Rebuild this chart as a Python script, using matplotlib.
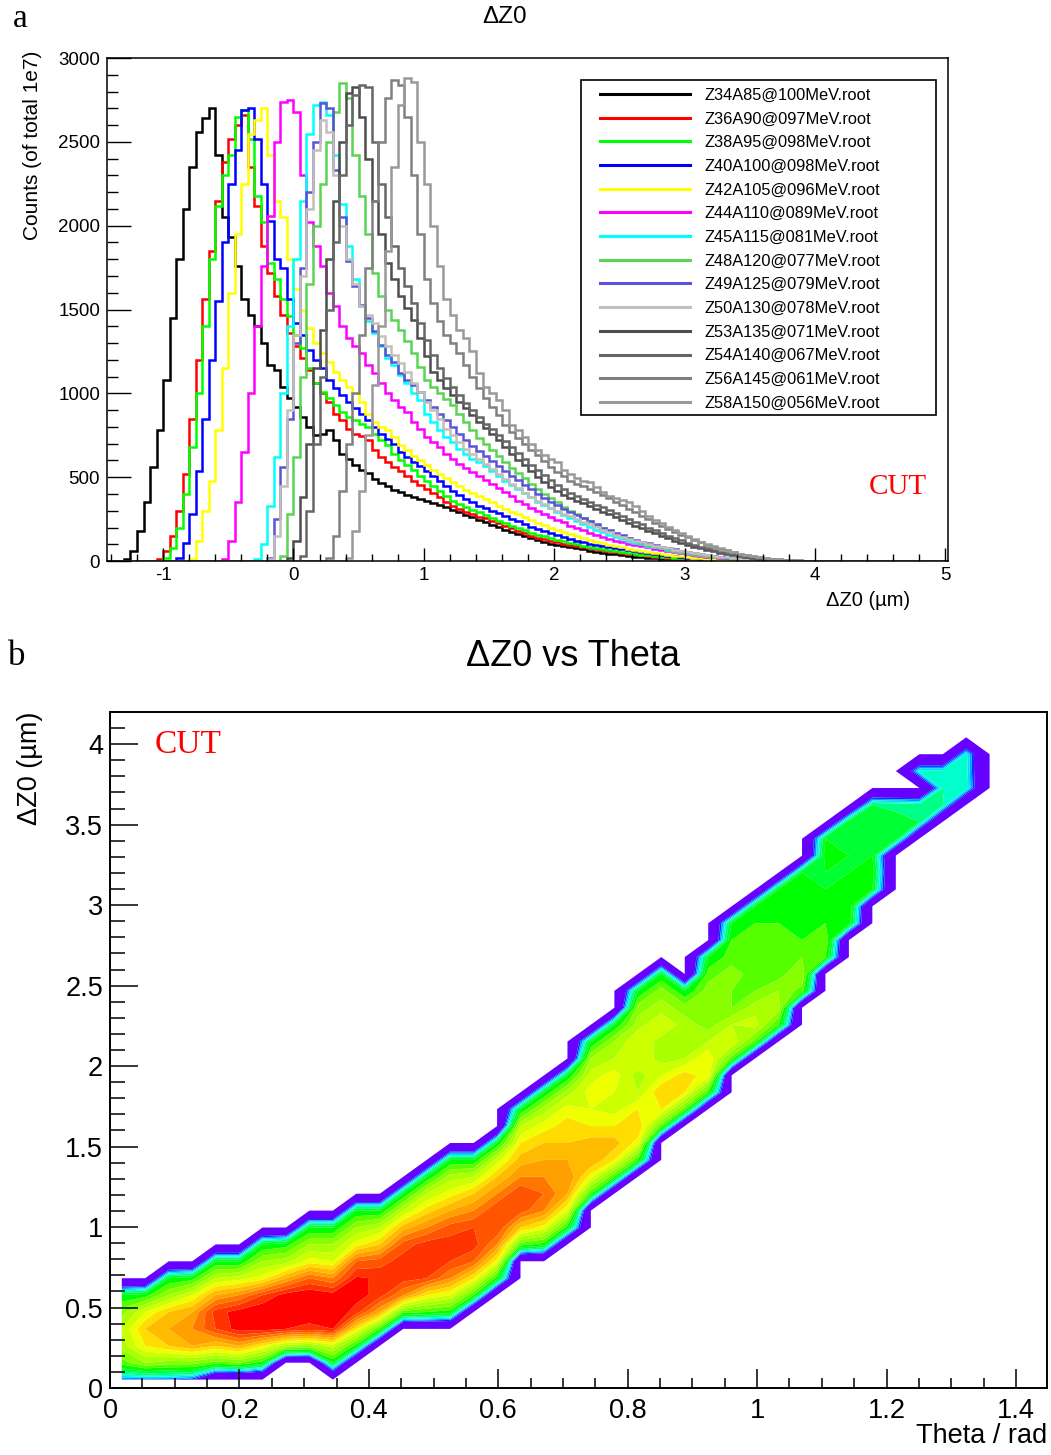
import numpy as np
import matplotlib
matplotlib.use("Agg")
import matplotlib.pyplot as plt
from matplotlib.ticker import MultipleLocator
from matplotlib.patches import Rectangle

plt.rcParams['font.family'] = ['Liberation Sans', 'DejaVu Sans']
plt.rcParams['axes.unicode_minus'] = False

# ---------------- panel a : Delta Z0 histograms (bin width 0.05 um) ----------------
bin_lo = -1.45
bin_w = 0.05
n_bins = 130

z34_start = -1.30
z34_counts = [10, 60, 180, 350, 560, 780, 1080, 1450, 1800, 2100, 2350, 2560, 2640, 2700, 2420, 2050,
              1930, 1760, 1560, 1470, 1400, 1300, 1170, 1140, 1040, 970, 920, 860, 800, 750, 760, 780,
              720, 640, 610, 575, 545, 525, 490, 465, 445, 425, 410, 395, 380, 370, 360, 345, 335, 320,
              305, 290, 275, 260, 245, 232, 215, 202, 188, 172, 160, 148, 135, 124, 112, 104, 95, 88,
              82, 76, 70, 62, 56, 50, 45, 40, 34, 30, 26, 22, 19, 16, 13, 11, 9, 7, 6, 5, 4, 3, 3, 2, 2,
              1, 1]
z36_start = -1.05
z36_counts = [15, 60, 150, 300, 520, 850, 1200, 1560, 1850, 2150, 2380, 2520, 2600, 2660, 2350, 2120,
              1880, 1720, 1580, 1470, 1360, 1280, 1210, 1140, 1060, 1000, 950, 880, 840, 790, 760, 745,
              720, 660, 620, 590, 560, 535, 505, 480, 455, 430, 405, 380, 355, 330, 310, 292, 278, 265,
              255, 240, 225, 212, 196, 182, 166, 152, 140, 130, 122, 112, 104, 95, 88, 84, 76, 70, 64,
              58, 54, 49, 44, 40, 36, 32, 27, 23, 19, 15, 12, 10, 8, 7, 5, 4, 3, 3, 2, 2, 1, 1]
z38_start = -1.00
z38_counts = [20, 80, 200, 400, 680, 1000, 1400, 1800, 2120, 2300, 2420, 2650, 2690, 2520, 2180, 2020,
              1780, 1680, 1560, 1460, 1350, 1270, 1150, 1060, 1010, 970, 930, 890, 860, 840, 820, 800,
              760, 720, 690, 640, 600, 570, 545, 510, 475, 450, 420, 385, 360, 340, 320, 305, 290, 275,
              258, 240, 225, 210, 198, 183, 170, 158, 148, 138, 128, 118, 108, 100, 92, 84, 78, 72, 66,
              60, 55, 49, 44, 39, 34, 30, 26, 22, 19, 16, 13, 11, 9, 7, 6, 5, 4, 3, 2, 2, 1, 1]
z40_start = -0.90
z40_counts = [20, 110, 280, 540, 850, 1200, 1550, 1900, 2250, 2450, 2690, 2700, 2520, 2250, 2030, 1800,
              1750, 1560, 1420, 1350, 1260, 1200, 1150, 1080, 1030, 990, 950, 910, 880, 840, 800, 760,
              730, 700, 650, 620, 590, 565, 540, 510, 480, 445, 420, 395, 370, 350, 330, 315, 300, 285,
              268, 252, 240, 222, 205, 190, 178, 165, 155, 144, 132, 122, 112, 104, 96, 88, 82, 76, 70,
              64, 58, 52, 47, 42, 37, 32, 28, 24, 20, 17, 14, 11, 9, 7, 6, 4, 3, 2, 2, 1, 1]
z42_start = -0.80
z42_counts = [15, 120, 300, 480, 780, 1150, 1600, 1950, 2250, 2550, 2630, 2700, 2420, 2150, 2050, 1800,
              1620, 1500, 1390, 1300, 1240, 1190, 1130, 1080, 1040, 1000, 950, 880, 830, 800, 780, 740,
              690, 660, 625, 600, 570, 545, 520, 495, 470, 450, 425, 405, 385, 368, 350, 330, 312, 295,
              280, 262, 245, 228, 215, 200, 188, 175, 160, 148, 135, 125, 115, 106, 98, 90, 82, 74, 66,
              60, 54, 48, 42, 37, 32, 28, 24, 20, 17, 14, 11, 9, 7, 5, 4, 3, 2, 2, 1, 1]
z44_start = -0.55
z44_counts = [15, 120, 350, 650, 1000, 1400, 1760, 2060, 2500, 2740, 2750, 2680, 2300, 2020, 1880, 1760,
              1600, 1520, 1400, 1330, 1280, 1240, 1170, 1120, 1060, 1000, 960, 920, 890, 830, 790, 740,
              710, 680, 640, 610, 580, 555, 530, 505, 485, 460, 435, 410, 385, 360, 340, 318, 298, 280,
              262, 245, 230, 212, 198, 184, 170, 156, 144, 132, 122, 112, 104, 95, 88, 82, 74, 67, 60,
              54, 48, 42, 37, 32, 27, 23, 19, 16, 13, 10, 8, 6, 5, 4, 3, 2, 1, 1]
z45_start = -0.30
z45_counts = [10, 100, 330, 620, 1000, 1400, 1800, 2150, 2550, 2720, 2740, 2660, 2420, 2130, 1880, 1680,
              1520, 1430, 1360, 1280, 1210, 1170, 1110, 1060, 1000, 960, 880, 830, 780, 740, 710, 670,
              640, 610, 590, 565, 540, 510, 480, 455, 430, 405, 380, 355, 335, 315, 295, 275, 255, 238,
              222, 205, 188, 172, 158, 145, 132, 120, 110, 100, 92, 84, 76, 68, 60, 54, 48, 42, 36, 31,
              26, 22, 18, 15, 12, 9, 7, 5, 4, 3, 2, 2, 1, 1]
z48_start = -0.10
z48_counts = [30, 280, 620, 1100, 1650, 2000, 2250, 2500, 2680, 2850, 2760, 2420, 2180, 1950, 1720, 1580,
              1500, 1440, 1380, 1310, 1240, 1160, 1080, 1040, 1000, 965, 930, 880, 830, 780, 735, 700,
              660, 625, 590, 555, 525, 495, 460, 430, 400, 375, 350, 325, 300, 278, 256, 236, 216, 198,
              180, 164, 150, 136, 122, 110, 98, 88, 78, 70, 62, 55, 48, 42, 36, 31, 26, 22, 18, 15, 12,
              9, 7, 5, 4, 3, 2, 2, 1, 1]
z49_start = -0.20
z49_counts = [20, 250, 560, 850, 1300, 1750, 2200, 2500, 2730, 2700, 2330, 2050, 1790, 1640, 1530, 1450,
              1370, 1290, 1230, 1190, 1120, 1080, 1050, 1010, 960, 920, 880, 840, 800, 760, 720, 685,
              655, 625, 595, 565, 535, 510, 485, 455, 430, 400, 378, 355, 335, 312, 290, 272, 255, 236,
              218, 200, 184, 168, 154, 140, 128, 116, 105, 95, 86, 78, 70, 62, 55, 48, 42, 36, 31, 26,
              21, 17, 14, 11, 8, 6, 5, 4, 3, 2, 1, 1]
z50_start = -0.20
z50_counts = [10, 150, 450, 900, 1350, 1700, 2100, 2450, 2630, 2560, 2300, 2000, 1800, 1650, 1520, 1470,
              1420, 1340, 1280, 1230, 1180, 1130, 1060, 1010, 950, 900, 850, 790, 750, 710, 670, 640,
              610, 580, 550, 520, 490, 460, 435, 408, 382, 360, 338, 318, 300, 282, 266, 250, 235, 218,
              202, 186, 172, 158, 145, 133, 122, 112, 102, 92, 84, 76, 68, 61, 54, 48, 42, 36, 31, 26,
              22, 18, 14, 11, 9, 7, 5, 4, 3, 2, 1, 1]
z53_start = -0.05
z53_counts = [20, 120, 380, 700, 1150, 1380, 1800, 2150, 2500, 2790, 2830, 2650, 2400, 2150, 1950, 1780,
              1680, 1580, 1510, 1440, 1330, 1220, 1130, 1080, 1030, 990, 950, 910, 870, 830, 795, 760,
              720, 680, 640, 605, 570, 535, 500, 470, 440, 415, 395, 378, 360, 345, 328, 310, 295, 280,
              262, 245, 228, 212, 196, 180, 165, 150, 136, 122, 110, 98, 86, 76, 66, 57, 49, 42, 35, 29,
              24, 19, 15, 12, 9, 7, 5, 4, 3, 2, 1]
z54_start = 0.05
z54_counts = [30, 300, 700, 1100, 1500, 1900, 2300, 2600, 2780, 2840, 2830, 2500, 2250, 2050, 1880, 1750,
              1640, 1540, 1420, 1320, 1230, 1150, 1090, 1040, 990, 945, 900, 860, 820, 785, 750, 715,
              680, 645, 610, 575, 545, 515, 485, 455, 430, 405, 385, 368, 350, 335, 320, 305, 288, 270,
              252, 235, 218, 200, 184, 168, 152, 138, 124, 110, 98, 86, 75, 65, 56, 48, 40, 34, 28, 22,
              18, 14, 11, 8, 6, 5, 3, 2, 1]
z56_start = 0.25
z56_counts = [20, 150, 420, 700, 1000, 1350, 1750, 2150, 2500, 2760, 2870, 2840, 2650, 2300, 1950, 1680,
              1540, 1430, 1350, 1300, 1240, 1170, 1100, 1030, 975, 920, 870, 810, 770, 735, 700, 665,
              630, 595, 560, 530, 505, 480, 462, 448, 430, 412, 395, 375, 355, 335, 312, 290, 268, 248,
              228, 210, 192, 175, 158, 142, 126, 112, 98, 86, 74, 63, 53, 44, 36, 29, 23, 18, 14, 10, 7,
              5, 4, 3, 2, 1]
z58_start = 0.40
z58_counts = [20, 180, 420, 750, 1050, 1400, 1850, 2350, 2720, 2880, 2860, 2500, 2250, 2000, 1760, 1560,
              1470, 1380, 1330, 1250, 1120, 1040, 1000, 960, 900, 810, 780, 740, 700, 660, 635, 610,
              590, 545, 520, 495, 480, 470, 440, 410, 390, 375, 365, 350, 330, 300, 270, 245, 225, 205,
              185, 168, 150, 130, 115, 100, 88, 76, 64, 53, 44, 36, 29, 23, 18, 14, 10, 7, 5, 4, 3, 2, 1]

hist_labels = ['Z34A85@100MeV.root', 'Z36A90@097MeV.root', 'Z38A95@098MeV.root',
               'Z40A100@098MeV.root', 'Z42A105@096MeV.root', 'Z44A110@089MeV.root',
               'Z45A115@081MeV.root', 'Z48A120@077MeV.root', 'Z49A125@079MeV.root',
               'Z50A130@078MeV.root', 'Z53A135@071MeV.root', 'Z54A140@067MeV.root',
               'Z56A145@061MeV.root', 'Z58A150@056MeV.root']
hist_colors = ['#000000', '#ff0000', '#00ff00', '#0000ff', '#ffff00', '#ff00ff', '#00ffff',
               '#59d454', '#5954d9', '#c4bfb8', '#4d4d4d', '#666666', '#808080', '#999999']
hist_series = [(z34_start, z34_counts), (z36_start, z36_counts), (z38_start, z38_counts),
               (z40_start, z40_counts), (z42_start, z42_counts), (z44_start, z44_counts),
               (z45_start, z45_counts), (z48_start, z48_counts), (z49_start, z49_counts),
               (z50_start, z50_counts), (z53_start, z53_counts), (z54_start, z54_counts),
               (z56_start, z56_counts), (z58_start, z58_counts)]

# ---------------- panel b : Delta Z0 vs Theta (2D bins) ----------------
theta_bin_w = 0.03625
z_bin_w = 0.105
n_theta = 40
n_z = 40
# one entry per theta column: (first filled z-row, cell values)
dz_columns = [
    (0, [4, 8.5, 10.5, 11, 9.5, 7]),
    (0, [4, 10, 13, 14, 12, 7.5]),
    (0, [4, 9.5, 14, 15, 14, 10, 7]),
    (0, [3.6, 9.5, 15, 16, 15, 12, 7.5]),
    (1, [8.5, 14, 18, 18.5, 15, 11, 7]),
    (1, [9, 15, 19.5, 19.5, 16, 11.5, 7]),
    (1, [7.5, 13, 19.5, 20, 18, 12.5, 10, 7]),
    (2, [10.5, 19, 20, 19.5, 15, 10.5, 7.5]),
    (2, [10, 18.5, 20, 20, 17, 12.5, 10, 7]),
    (1, [7, 11.5, 19, 20, 19.5, 16, 12, 10, 7]),
    (2, [7.5, 13, 18.5, 19.5, 19.2, 17, 12.5, 10, 7]),
    (3, [8, 15, 18.5, 18.8, 17.5, 14, 11, 7]),
    (4, [8.5, 16, 18.5, 18.5, 17.5, 14.5, 11, 7]),
    (4, [8, 13, 18, 18.5, 18.5, 16, 13.5, 11, 7]),
    (4, [7.5, 12, 16, 18, 18.5, 17.5, 15, 12.5, 10.5, 7]),
    (5, [8, 13, 17, 18.5, 18, 16, 14, 11, 7]),
    (6, [7.5, 12.5, 16, 18, 18, 16, 14, 11.5, 7]),
    (8, [8.5, 14, 17.5, 18, 16, 14.5, 13, 11, 7]),
    (8, [7.5, 12.5, 16, 17, 16, 15, 14, 12.5, 10.5, 7]),
    (9, [7.5, 12, 15, 16, 15, 14, 13.5, 12.5, 10.5, 7]),
    (11, [8, 12.5, 15, 14.5, 13, 12, 12.5, 11.5, 10, 7]),
    (12, [8, 13, 14.5, 13, 11.5, 12, 12.5, 11, 10, 7]),
    (13, [8, 12.5, 14, 13, 11, 10.5, 12, 12, 10.5, 9.5, 7]),
    (15, [8.5, 13, 14, 12, 10.5, 10.5, 12, 10.5, 9.5, 7]),
    (16, [8.5, 13, 13.5, 11, 10, 10.5, 9.5, 7]),
    (17, [8, 12.5, 13, 11, 9.5, 10, 9.5, 8.5, 7]),
    (19, [8.5, 12, 11, 9, 9, 9.5, 8.5, 8, 7]),
    (20, [8.5, 11.5, 10.5, 9, 8.5, 9, 8.5, 8, 7]),
    (21, [8, 10.5, 10, 8.5, 8, 8.5, 8, 7.5, 7]),
    (23, [8.5, 10, 9, 8, 7.5, 7.5, 7.5, 7]),
    (25, [8, 9, 8, 7.5, 7, 7, 7.5, 7]),
    (27, [7.5, 8, 7.5, 7, 7, 7, 6.8]),
    (29, [7, 7.5, 7, 7, 6.5, 6.2]),
    (32, [6.8, 6.5, 6]),
    (33, [6.2, 5.8, 0, 5.3]),
    (34, [5.8, 5.5, 5.3]),
    (35, [5.5, 5.3, 5.2]),
]
cont_levels = [0.01, 3.5, 4.0, 4.5, 5.0, 5.5, 6.2, 7, 8, 9, 10, 11, 12, 13, 14, 15, 16, 17, 18, 19, 21]
cont_colors = ['#6600ff', '#0033ff', '#0099ff', '#00ddff', '#00ffcc', '#00ff88', '#00ff33', '#00ff00',
               '#55ff00', '#88ff00', '#aaff00', '#ccff00', '#eeff00', '#ffdd00', '#ffbb00', '#ffa000',
               '#ff7700', '#ff5500', '#ff3300', '#ff0000']

fig = plt.figure(figsize=(10.51, 14.55), dpi=100)

# ---------- panel a ----------
ax1 = fig.add_axes([0.1018, 0.6144, 0.8002, 0.3457])
edges = bin_lo + bin_w * np.arange(n_bins + 1)
handles = []
for (start, counts), col, lab in zip(hist_series, hist_colors, hist_labels):
    vals = np.zeros(n_bins)
    i0 = int(round((start - bin_lo) / bin_w))
    vals[i0:i0 + len(counts)] = counts
    h = ax1.stairs(vals, edges, baseline=None, color=col, lw=1.8, label=lab)
    handles.append(h)

ax1.set_xlim(-1.43, 5.02)
ax1.set_ylim(0, 3000)
ax1.xaxis.set_major_locator(MultipleLocator(1))
ax1.xaxis.set_minor_locator(MultipleLocator(0.2))
ax1.yaxis.set_major_locator(MultipleLocator(500))
ax1.yaxis.set_minor_locator(MultipleLocator(100))
ax1.tick_params(which='both', direction='in', width=1.0, labelsize=13.5)
ax1.tick_params(axis='x', which='major', length=9.5, pad=4)
ax1.tick_params(axis='x', which='minor', length=5)
ax1.tick_params(axis='y', which='major', length=17, pad=5)
ax1.tick_params(axis='y', which='minor', length=8)
for sp in ax1.spines.values():
    sp.set_linewidth(1.1)

leg = ax1.legend(handles=handles, loc='upper left', bbox_to_anchor=(0.5862, 0.941),
                 frameon=False, fontsize=11.8, handlelength=5.5, handletextpad=0.9,
                 labelspacing=0.53, borderpad=0, borderaxespad=0)
for line in leg.get_lines():
    line.set_linewidth(2.2)
ax1.add_patch(Rectangle((0.5636, 0.2903), 0.4221, 0.666, transform=ax1.transAxes,
                        fill=False, edgecolor='black', lw=1.2, zorder=5))
ax1.text(0.9405, 0.147, 'CUT', transform=ax1.transAxes, color='red', fontsize=21,
         family='Liberation Serif', ha='center', va='center')

fig.text(0.4805, 0.988, '\u0394Z0', fontsize=17.5, ha='center', va='center')
fig.text(0.012, 0.987, 'a', fontsize=24, family='Liberation Serif', ha='left', va='center')
fig.text(0.031, 0.9003, 'Counts (of total 1e7)', rotation=90, fontsize=15, ha='center', va='center')
fig.text(0.826, 0.5876, '\u0394Z0 (\u00b5m)', fontsize=14.5, ha='center', va='center')

# ---------- panel b ----------
ax2 = fig.add_axes([0.1047, 0.046, 0.8915, 0.4647])
grid = np.zeros((n_z, n_theta))
for i, (j0, vals) in enumerate(dz_columns):
    grid[j0:j0 + len(vals), i] = vals
theta_c = (np.arange(n_theta) + 0.5) * theta_bin_w
z_c = (np.arange(n_z) + 0.5) * z_bin_w
ax2.contourf(theta_c, z_c, grid, levels=cont_levels, colors=cont_colors, antialiased=True)

ax2.set_xlim(0, 1.448)
ax2.set_ylim(0, 4.2)
ax2.xaxis.set_major_locator(MultipleLocator(0.2))
ax2.xaxis.set_minor_locator(MultipleLocator(0.05))
ax2.yaxis.set_major_locator(MultipleLocator(0.5))
ax2.yaxis.set_minor_locator(MultipleLocator(0.1))
ax2.tick_params(which='both', direction='in', width=1.1, labelsize=19.5)
ax2.tick_params(axis='x', which='major', length=14, pad=7)
ax2.tick_params(axis='x', which='minor', length=7)
ax2.tick_params(axis='y', which='major', length=20, pad=5)
ax2.tick_params(axis='y', which='minor', length=10.5)
ax2.xaxis.set_major_formatter(plt.FuncFormatter(lambda v, p: ('%.1f' % v).rstrip('0').rstrip('.') if v else '0'))
ax2.yaxis.set_major_formatter(plt.FuncFormatter(lambda v, p: ('%.1f' % v).rstrip('0').rstrip('.') if v else '0'))
for sp in ax2.spines.values():
    sp.set_linewidth(1.4)
ax2.text(0.0832, 0.951, 'CUT', transform=ax2.transAxes, color='red', fontsize=24,
         family='Liberation Serif', ha='center', va='center')

fig.text(0.545, 0.549, '\u0394Z0 vs Theta', fontsize=26, ha='center', va='center')
fig.text(0.008, 0.5485, 'b', fontsize=25, family='Liberation Serif', ha='left', va='center')
fig.text(0.0285, 0.4722, '\u0394Z0 (\u00b5m)', rotation=90, fontsize=19.5, ha='center', va='center')
fig.text(0.9962, 0.0131, 'Theta / rad', fontsize=19.5, ha='right', va='center')

fig.savefig('out.png', dpi=100)
